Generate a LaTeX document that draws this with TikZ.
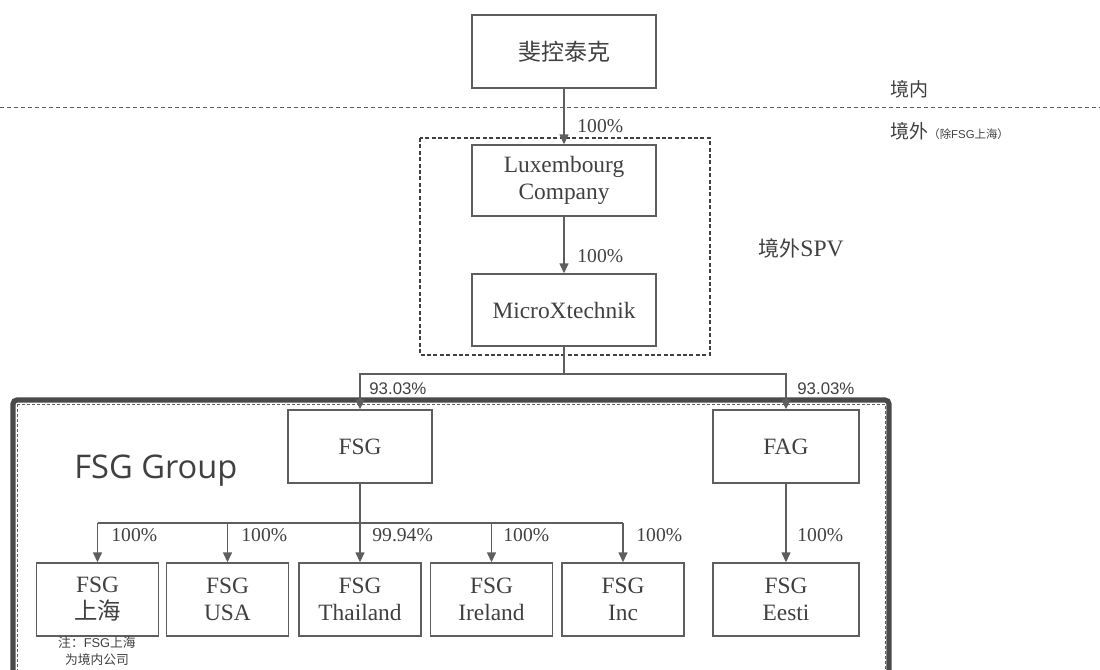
\documentclass[tikz,border=0pt]{standalone}
\usepackage{fontspec}
\setmainfont{Liberation Serif}
\newfontfamily\cjk{Noto Sans CJK SC}
\newfontfamily\arial{Liberation Sans}
\newfontfamily\grpfont{Open Sans}
\usetikzlibrary{arrows.meta}
\definecolor{ink}{HTML}{404040}
\definecolor{edge}{HTML}{5E5E5E}
\definecolor{frame}{HTML}{4A4A4A}
\begin{document}
\begin{tikzpicture}[x=0.5pt,y=-0.5pt,
    company/.style={draw=edge, line width=0.7pt, text=ink, align=center, inner sep=0pt,
        font=\fontsize{11.7}{13.5}\selectfont},
    child/.style={company, minimum width=61pt, minimum height=36.5pt},
    pct/.style={text=ink, anchor=west, inner sep=0pt, font=\fontsize{9.8}{11}\selectfont},
    share/.style={pct, font=\arial\fontsize{8.4}{10}\selectfont},
    note/.style={text=ink, anchor=west, inner sep=0pt},
    link/.style={draw=edge, line width=0.7pt, -{Triangle[length=5pt,width=4.5pt]}}]
    \useasboundingbox (0,0) rectangle (1100,670);
    \clip (0,0) rectangle (1100,670);
    % group frame and borders
    \draw[frame, line width=2.6pt, rounded corners=2pt] (13,400) rectangle (889,700);
    \draw[edge, line width=0.4pt, dash pattern=on 1.5pt off 1pt] (17,404) rectangle (885,700);
    \draw[edge, line width=0.5pt, dash pattern=on 2pt off 1.5pt] (0,107) -- (1100,107);
    \draw[ink, line width=0.6pt, dash pattern=on 2pt off 1.2pt] (420,138) rectangle (710,355);
    % companies
    \node[company, minimum width=92pt, minimum height=36.5pt, font=\cjk\fontsize{11.5}{13}\selectfont] (kong) at (564,51.5) {斐控泰克};
    \node[company, minimum width=92pt, minimum height=35.5pt] (lux) at (564,180.5) {Luxembourg\\Company};
    \node[company, minimum width=92pt, minimum height=36pt] (micro) at (564,310) {MicroXtechnik};
    \node[company, minimum width=72pt, minimum height=36.5pt] (fsg) at (360,446.5) {FSG};
    \node[company, minimum width=73pt, minimum height=36.5pt] (fag) at (786,446.5) {FAG};
    \node[child] (sh) at (97.5,599.5) {FSG\\{\cjk 上海}};
    \node[child] (usa) at (227.5,599.5) {FSG\\USA};
    \node[child] (thai) at (360,599.5) {FSG\\Thailand};
    \node[child] (ire) at (491.5,599.5) {FSG\\Ireland};
    \node[child] (inc) at (623,599.5) {FSG\\Inc};
    \node[child, minimum width=73pt] (eesti) at (786,599.5) {FSG\\Eesti};
    % ownership links
    \coordinate (split) at (564,374);
    \coordinate (bus) at (360,523);
    \draw[link] (kong) -- (lux);
    \draw[link] (lux) -- (micro);
    \draw[link] (micro.south) -- (split) -| (fsg.north);
    \draw[link] (split) -| (fag.north);
    \draw[link] (fsg) -- (thai);
    \draw[edge, line width=0.7pt] (sh.north |- bus) -- (inc.north |- bus);
    \foreach \n in {sh,usa,ire,inc}
        \draw[link] (\n.north |- bus) -- (\n.north);
    \draw[link] (fag) -- (eesti);
    % percentages
    \node[pct] (pkong) at (577,126) {100\%};
    \node[pct] (plux) at (577,256) {100\%};
    \node[share] (pfsg) at (369,389) {93.03\%};
    \node[share] (pfag) at (797,389) {93.03\%};
    \node[pct] (psh) at (111,535) {100\%};
    \node[pct] (pusa) at (241,535) {100\%};
    \node[pct] (pthai) at (372,535) {99.94\%};
    \node[pct] (pire) at (503,535) {100\%};
    \node[pct] (pinc) at (636,535) {100\%};
    \node[pct] (peesti) at (797,535) {100\%};
    % region labels
    \node[note, font=\cjk\fontsize{9.5}{11}\selectfont] (inside) at (890,89.5) {境内};
    \node[note] (outside) at (890,131.5) {{\cjk\fontsize{9.5}{11}\selectfont 境外}{\cjk\fontsize{5.7}{7}\selectfont （除{\arial FSG}上海）}};
    \node[note] (spv) at (758,248) {{\cjk\fontsize{10.5}{12}\selectfont 境外}{\fontsize{11.8}{13}\selectfont SPV}};
    \node[note, font=\grpfont\fontsize{16.3}{18}\selectfont] (grp) at (74,471) {FSG Group};
    \node[text=ink, inner sep=0pt, align=center, font=\cjk\fontsize{6.4}{8.5}\selectfont] (memo) at (97,651.5) {注：{\arial FSG}上海\\为境内公司};
\end{tikzpicture}
\end{document}
